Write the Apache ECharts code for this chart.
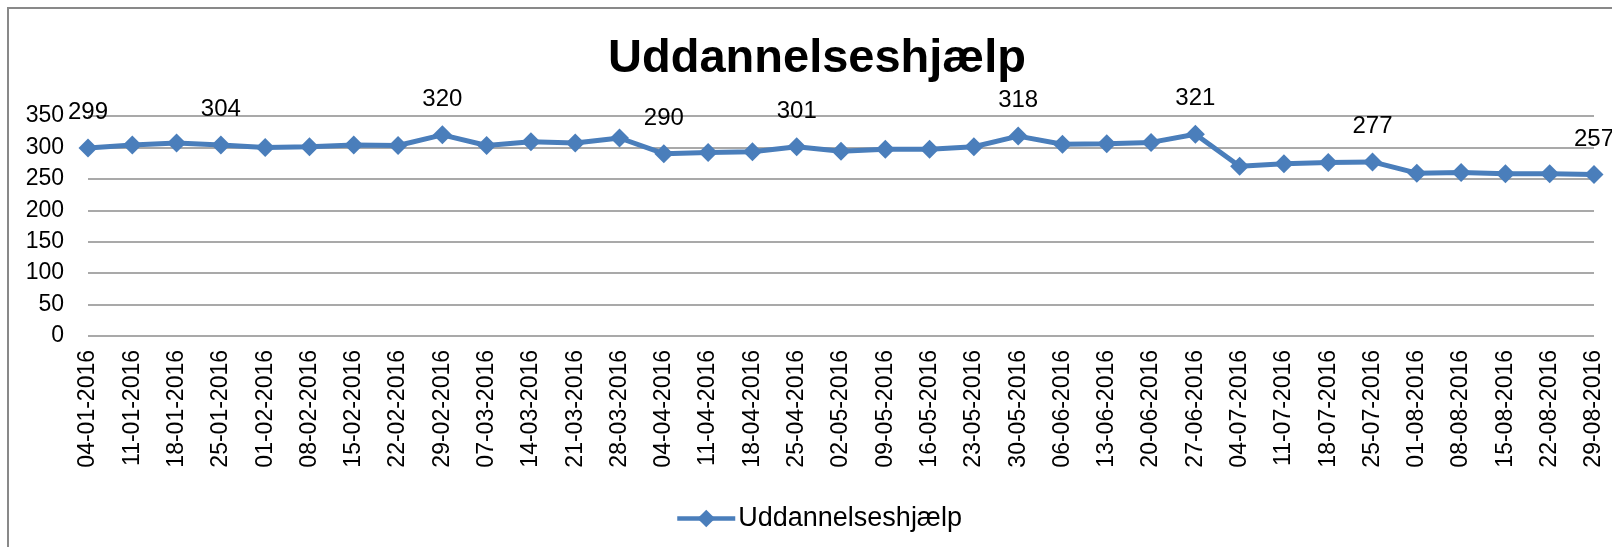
<!DOCTYPE html>
<html>
<head>
<meta charset="utf-8">
<script src="https://cdn.jsdelivr.net/npm/echarts@6/dist/echarts.min.js"></script>
<style>
  html, body { margin: 0; padding: 0; background: #fff; }
  #chart { width: 1612px; height: 547px; }
</style>
</head>
<body>
<div id="chart"></div>
<script>
const titleText = "Uddannelseshjælp";
const seriesName = "Uddannelseshjælp";

const weeks = [
  "04-01-2016", "11-01-2016", "18-01-2016", "25-01-2016", "01-02-2016",
  "08-02-2016", "15-02-2016", "22-02-2016", "29-02-2016", "07-03-2016",
  "14-03-2016", "21-03-2016", "28-03-2016", "04-04-2016", "11-04-2016",
  "18-04-2016", "25-04-2016", "02-05-2016", "09-05-2016", "16-05-2016",
  "23-05-2016", "30-05-2016", "06-06-2016", "13-06-2016", "20-06-2016",
  "27-06-2016", "04-07-2016", "11-07-2016", "18-07-2016", "25-07-2016",
  "01-08-2016", "08-08-2016", "15-08-2016", "22-08-2016", "29-08-2016"
];

const counts = [
  299, 304, 307, 304, 300, 301, 304, 303, 320, 303,
  309, 307, 315, 290, 292, 293, 301, 294, 297, 297,
  301, 318, 305, 306, 308, 321, 270, 274, 276, 277,
  259, 260, 258, 258, 257
];

// only some points carry a value label in the original
const labelledWeeks = [0, 3, 8, 13, 16, 21, 25, 29, 34];

const chart = echarts.init(document.getElementById("chart"));

const blue = "#4a7ebb";
const font = "Arial, 'Liberation Sans', sans-serif";

const option = {
  animation: false,
  backgroundColor: "#fff",
  textStyle: { fontFamily: font },
  graphic: [
    {
      type: "rect",
      shape: { x: 8, y: 8, width: 1700, height: 700 },
      style: { fill: "none", stroke: "#898989", lineWidth: 2 },
      silent: true
    }
  ],
  title: {
    text: titleText,
    left: 812,
    top: 31,
    textAlign: "center",
    textStyle: { fontFamily: font, fontSize: 47, fontWeight: "bold", color: "#000" }
  },
  legend: {
    data: [seriesName],
    left: 670,
    top: 500,
    itemWidth: 58,
    itemHeight: 22,
    itemGap: 3,
    lineStyle: { width: 4.5 },
    textStyle: { fontFamily: font, fontSize: 27, color: "#000", padding: [0, 0, 0, -2] }
  },
  grid: { left: 88, right: 18, top: 116, bottom: 211, containLabel: false },
  xAxis: {
    type: "category",
    data: weeks,
    boundaryGap: false,
    axisLine: { show: false },
    axisTick: { show: false },
    splitLine: { show: false },
    axisLabel: {
      rotate: 90,
      interval: 0,
      margin: 14,
      fontFamily: font,
      fontSize: 23,
      color: "#000"
    }
  },
  yAxis: {
    type: "value",
    min: 0,
    max: 350,
    interval: 50,
    axisLine: { show: false },
    axisTick: { show: false },
    axisLabel: { margin: 24, fontFamily: font, fontSize: 23, color: "#000" },
    splitLine: { lineStyle: { color: "#8c8c8c", width: 1.5 } }
  },
  series: [
    {
      name: seriesName,
      type: "line",
      data: counts.map((v, i) => ({
        value: v,
        label: { show: labelledWeeks.includes(i) }
      })),
      symbol: "diamond",
      symbolSize: 19,
      lineStyle: { color: blue, width: 5 },
      itemStyle: { color: blue },
      label: {
        position: "top",
        distance: 14,
        fontFamily: font,
        fontSize: 24,
        color: "#000"
      }
    }
  ]
};

chart.setOption(option);
</script>
</body>
</html>
